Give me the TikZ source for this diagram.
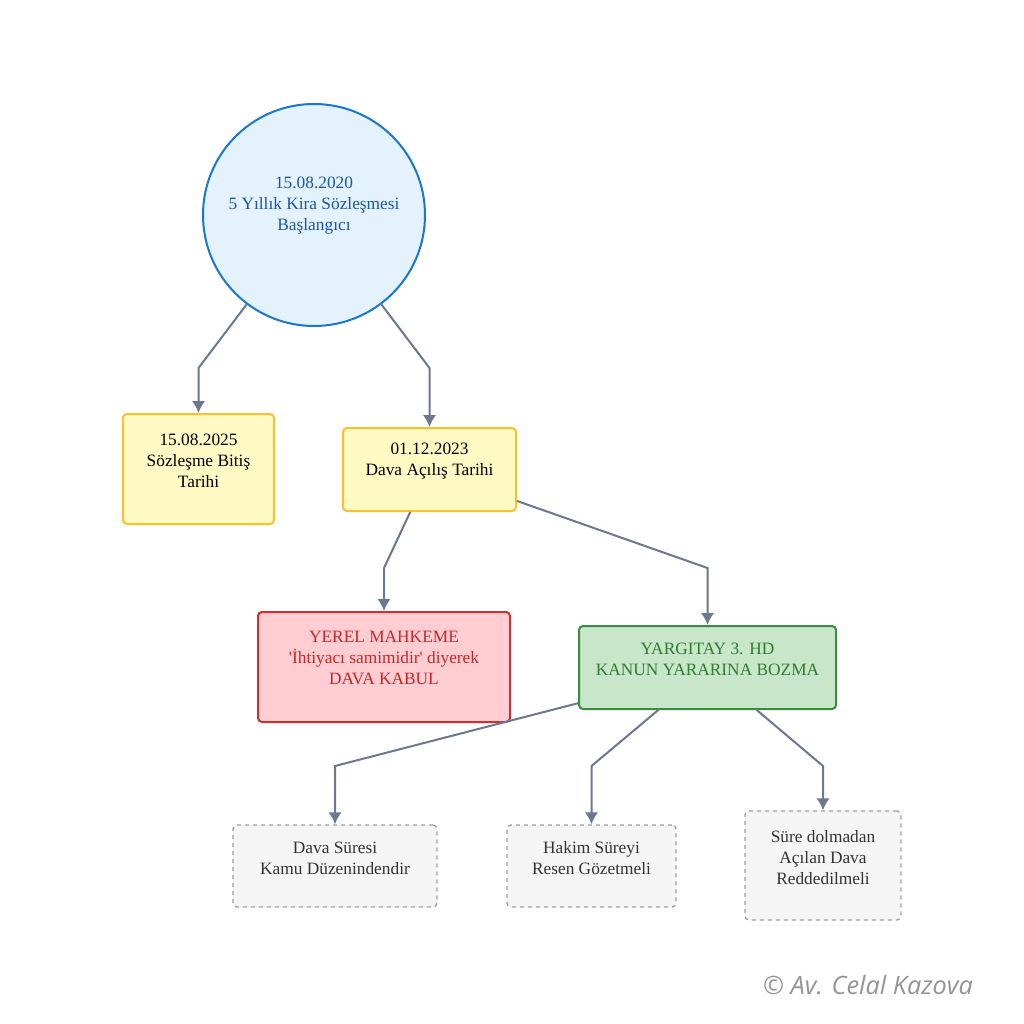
\documentclass[tikz,border=0pt]{standalone}
\usepackage{fontspec}
\setmainfont{Liberation Serif}
\newfontfamily\markfont{Open Sans}
\usetikzlibrary{arrows.meta,calc}

\definecolor{startfill}{HTML}{E3F2FD}
\definecolor{startline}{HTML}{1976D2}
\definecolor{starttext}{HTML}{1A56A8}
\definecolor{datefill}{HTML}{FFF9C4}
\definecolor{dateline}{HTML}{FBC02D}
\definecolor{localfill}{HTML}{FFCDD2}
\definecolor{localline}{HTML}{D32F2F}
\definecolor{localtext}{HTML}{C62828}
\definecolor{courtfill}{HTML}{C8E6C9}
\definecolor{courtline}{HTML}{388E3C}
\definecolor{courttext}{HTML}{2E7D32}
\definecolor{notefill}{HTML}{F5F5F5}
\definecolor{noteline}{HTML}{9E9E9E}
\definecolor{linkgray}{HTML}{6B7890}

\begin{document}
\begin{tikzpicture}[x=0.75pt,y=-0.75pt]
    % Timeline of the lease case, drawn on a 1024 x 1024 px grid (y down).

    \tikzset{
      boxsize/.style 2 args={minimum width=#1*0.75pt, minimum height=#2*0.75pt},
      panel/.style={rectangle, rounded corners=3pt, line width=1.5pt, inner sep=0pt},
      datebox/.style={panel, draw=dateline, fill=datefill},
      localbox/.style={panel, draw=localline, fill=localfill},
      courtbox/.style={panel, draw=courtline, fill=courtfill},
      notebox/.style={panel, line width=1pt, dashed, draw=noteline, fill=notefill},
      txt/.style={font=\fontsize{13}{15.75}\selectfont, align=center, inner sep=0pt},
      link/.style={draw=linkgray, line width=1.5pt, -{Latex[length=9pt,width=10pt]}}
    }

    \fill[white] (0,0) rectangle (1024,1024);
    \useasboundingbox (0,0) rectangle (1024,1024);

    % --- start of the lease
    \node[circle, draw=startline, fill=startfill, line width=1.5pt,
          minimum size=166.5pt, inner sep=0pt] (start) at (314,215) {};
    \node[txt, text=starttext] (startT) at ($(start)+(0,-9)$)
      {15.08.2020\\5 Yıllık Kira Sözleşmesi\\Başlangıcı};

    % --- the two dates
    \node[datebox, boxsize={151}{110}] (finish) at (198.5,469) {};
    \node[txt] (finishT) at ($(finish)+(0,-8)$) {15.08.2025\\Sözleşme Bitiş\\Tarihi};

    \node[datebox, boxsize={173}{83}] (filing) at (429.5,469.5) {};
    \node[txt] (filingT) at ($(filing)+(0,-8)$) {01.12.2023\\Dava Açılış Tarihi};

    % --- the two decisions
    \node[localbox, boxsize={252}{110}] (local) at (384,667) {};
    \node[txt, text=localtext] (localT) at ($(local)+(0,-9)$)
      {YEREL MAHKEME\\\textquotesingle İhtiyacı samimidir\textquotesingle{} diyerek\\DAVA KABUL};

    \node[courtbox, boxsize={257}{83}] (court) at (707.5,667.5) {};
    \node[txt, text=courttext] (courtT) at ($(court)+(0,-8)$)
      {YARGITAY 3. HD\\KANUN YARARINA BOZMA};

    % --- the grounds of the reversal
    \node[notebox, boxsize={204}{82}] (publicorder) at (335,866) {};
    \node[txt, text=black!80] (publicorderT) at ($(publicorder)+(0,-8)$)
      {Dava Süresi\\Kamu Düzenindendir};

    \node[notebox, boxsize={169}{82}] (exofficio) at (591.5,866) {};
    \node[txt, text=black!80] (exofficioT) at ($(exofficio)+(0,-8)$)
      {Hakim Süreyi\\Resen Gözetmeli};

    \node[notebox, boxsize={156}{109}] (dismiss) at (823,865.5) {};
    \node[txt, text=black!80] (dismissT) at ($(dismiss)+(0,-8)$)
      {Süre dolmadan\\Açılan Dava\\Reddedilmeli};

    % --- connectors
    \draw[link] (start.233) -- (finish.north |- 0,368) -- (finish.north);
    \draw[link] (start.-53) -- (filing.north |- 0,368) -- (filing.north);
    \draw[link] ($(filing.south west)!0.39!(filing.south east)$)
      -- (local.north |- 0,568) -- (local.north);
    \draw[link] ($(filing.north east)!0.87!(filing.south east)$)
      -- (court.north |- 0,568) -- (court.north);
    \draw[link] ($(court.north west)!0.92!(court.south west)$)
      -- (publicorder.north |- 0,766) -- (publicorder.north);
    \draw[link] ($(court.south west)!0.31!(court.south east)$)
      -- (exofficio.north |- 0,766) -- (exofficio.north);
    \draw[link] ($(court.south west)!0.69!(court.south east)$)
      -- (dismiss.north |- 0,766) -- (dismiss.north);

    % --- signature
    \node[font=\markfont\itshape\fontsize{19}{22}\selectfont, text=black!42,
          inner sep=0pt] (mark) at (868,985) {© Av. Celal Kazova};
  \end{tikzpicture}
\end{document}
